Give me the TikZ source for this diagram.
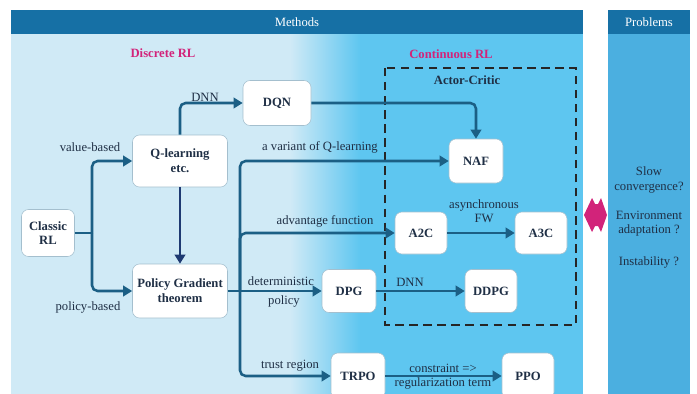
\documentclass[tikz,border=0pt]{standalone}
\usepackage{fontspec}
\setmainfont{Liberation Serif}
\usetikzlibrary{arrows.meta}
\definecolor{hdr}{HTML}{1670A5}
\definecolor{lite}{HTML}{D0EAF6}
\definecolor{brite}{HTML}{5EC6F0}
\definecolor{prob}{HTML}{4BAFE0}
\definecolor{arr}{HTML}{1B5F85}
\definecolor{navy}{HTML}{1E3A72}
\definecolor{mag}{HTML}{D2237A}
\definecolor{txt}{HTML}{1F2F45}
\def\px{0.025cm}
\tikzset{
  box/.style={draw=arr!40,fill=white,rounded corners=5pt,align=center,
    font=\fontsize{9}{10.5}\selectfont\bfseries,text=txt,inner sep=1pt},
  link/.style={draw=arr,line width=1.8pt,rounded corners=4pt,
    -{Triangle[length=6.5pt,width=7.5pt]}},
  lbl/.style={font=\fontsize{9}{10}\selectfont,text=txt,inner sep=1pt,align=center},
  hdrtext/.style={font=\fontsize{9}{10}\selectfont,text=white},
}
\begin{document}
\begin{tikzpicture}[x=\px,y=-\px]
  \useasboundingbox (0,0) rectangle (697,394);
  \clip (0,0) rectangle (697,394);
  % panels
  \fill[lite] (11,34) rectangle (290,394);
  \shade[left color=lite,right color=brite] (290,34) rectangle (360,394);
  \fill[brite] (360,34) rectangle (583,394);
  \fill[hdr] (11,10) rectangle (583,34);
  \fill[prob] (608,34) rectangle (690,394);
  \fill[hdr] (608,10) rectangle (690,34);
  \node[hdrtext] (methods) at (297,22) {Methods};
  \node[hdrtext] (problems) at (649,22) {Problems};
  \node[lbl,text=mag,font=\fontsize{9}{10}\selectfont\bfseries] (discrete) at (163,53) {Discrete RL};
  \node[lbl,text=mag,font=\fontsize{9}{10}\selectfont\bfseries] (continuous) at (451,54) {Continuous RL};
  % actor-critic frame
  \draw[black!85,line width=1.3pt,dash pattern=on 6pt off 4pt] (385,68) rectangle (576,325);
  \node[lbl,font=\fontsize{9}{10}\selectfont\bfseries] (ac) at (467,80) {Actor-Critic};
  % nodes
  \node[box,minimum width=53*\px,minimum height=47*\px] (cls) at (48,233) {Classic\\RL};
  \node[box,minimum width=95*\px,minimum height=52*\px] (ql) at (180,161) {Q-learning\\etc.};
  \node[box,minimum width=95*\px,minimum height=54*\px] (pg) at (180,291) {Policy Gradient\\theorem};
  \node[box,minimum width=68*\px,minimum height=45*\px] (dqn) at (277,103) {DQN};
  \node[box,minimum width=54*\px,minimum height=44*\px] (naf) at (476,161) {NAF};
  \node[box,minimum width=52*\px,minimum height=42*\px] (a2c) at (421,233) {A2C};
  \node[box,minimum width=52*\px,minimum height=42*\px] (a3c) at (541,233) {A3C};
  \node[box,minimum width=54*\px,minimum height=43*\px] (dpg) at (349,291) {DPG};
  \node[box,minimum width=52*\px,minimum height=43*\px] (ddpg) at (491,291) {DDPG};
  \node[box,minimum width=54*\px,minimum height=46*\px] (trpo) at (358,376) {TRPO};
  \node[box,minimum width=52*\px,minimum height=46*\px] (ppo) at (528,376) {PPO};
  \coordinate (j1) at (92,233);
  \coordinate (j2) at (240,291);
  % connectors
  \draw[link,-] (cls) -- (j1);
  \draw[link] (j1) |- (ql);
  \draw[link] (j1) |- (pg);
  \draw[link] (ql.north) |- (dqn);
  \draw[link] (dqn) -| (naf.north);
  \draw[link,draw=navy] (ql) -- (pg);
  \draw[link] (pg) -- (dpg);
  \draw[link] (j2) |- (naf);
  \draw[link] (j2) |- (a2c);
  \draw[link] (j2) |- (trpo);
  \draw[link] (a2c) -- (a3c);
  \draw[link] (dpg) -- (ddpg);
  \draw[link] (trpo) -- (ppo);
  % labels
  \node[lbl] (vb) at (90,147) {value-based};
  \node[lbl] (pb) at (88,307) {policy-based};
  \node[lbl] (dnn1) at (205,97) {DNN};
  \node[lbl] (var) at (320,147) {a variant of Q-learning};
  \node[lbl] (adv) at (325,221) {advantage function};
  \node[lbl] (det) at (281,281) {deterministic};
  \node[lbl] (pol) at (284,301) {policy};
  \node[lbl] (trust) at (290,366) {trust region};
  \node[lbl] (async) at (484,211) {asynchronous\\FW};
  \node[lbl] (dnn2) at (410,282) {DNN};
  \node[lbl] (cons) at (443,368) {constraint =>};
  \node[lbl] (reg) at (443,383) {regularization term};
  % problems
  \node[lbl] (slow) at (649,180) {Slow\\convergence?};
  \node[lbl] (env) at (649,224) {Environment\\adaptation ?};
  \node[lbl] (inst) at (649,262) {Instability ?};
  % double arrow
  \fill[mag] (584,215) -- (592,198) -- (595,204) -- (598,204) -- (601,198)
    -- (607,215) -- (601,232) -- (598,226) -- (595,226) -- (592,232) -- cycle;
\end{tikzpicture}
\end{document}
